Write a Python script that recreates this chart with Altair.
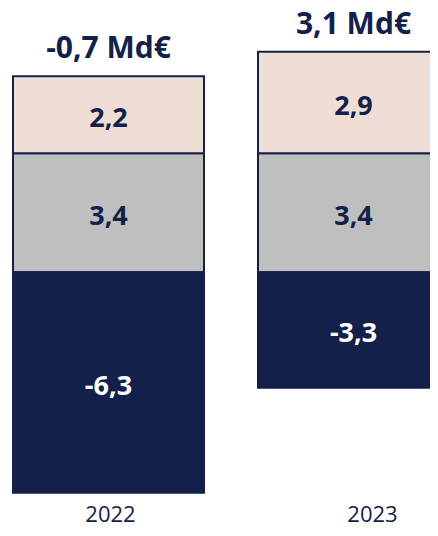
import altair as alt
import pandas as pd

years = ["2022", "2023"]
categories = ["gris", "beige", "marine"]          # stacking order (positives from zero upward, then negative)
gray_values = [3.4, 3.4]
beige_values = [2.2, 2.9]
navy_values = [-6.3, -3.3]
total_labels = ["-0,7 Md€", "3,1 Md€"]
colors = ["#BFBFBF", "#EFDED5", "#13214A"]

NAVY = "#13214A"
FONT = "Open Sans"

series = [gray_values, beige_values, navy_values]
rows = []
for i, yr in enumerate(years):
    for k, cat in enumerate(categories):
        rows.append({"year": yr, "cat": cat, "rank": k,
                     "value": series[k][i], "total": total_labels[i]})
df = pd.DataFrame(rows)

base = (
    alt.Chart(df)
    .transform_stack(stack="value", as_=["v0", "v1"], groupby=["year"],
                     sort=[alt.SortField("rank", order="ascending")])
    .transform_calculate(
        mid="(datum.v0 + datum.v1) / 2",
        label="(datum.value < 0 ? '-' : '') + replace(format(abs(datum.value), '.1f'), '.', ',')",
    )
)

x_enc = alt.X(
    "year:N",
    sort=years,
    scale=alt.Scale(range=[0, 446], paddingInner=0.2204, paddingOuter=0.0204),
    axis=alt.Axis(title=None, domain=False, ticks=False, grid=False, labelAngle=0,
                  labelFont=FONT, labelFontSize=22, labelColor=NAVY,
                  labelPadding=6,
                  labelOffset={"condition": {"test": "datum.value === '2023'", "value": 19},
                               "value": 2}),
)
y_scale = alt.Scale(domain=[-6.45, 7.55], nice=False, zero=False)

bars = base.mark_bar(stroke=NAVY, strokeWidth=2, clip=True).encode(
    x=x_enc,
    y=alt.Y("v0:Q", scale=y_scale, axis=None),
    y2="v1:Q",
    color=alt.Color("cat:N", scale=alt.Scale(domain=categories, range=colors), legend=None),
)

seg_labels = base.mark_text(font=FONT, fontSize=27, fontWeight="bold",
                            baseline="middle", dy=4).encode(
    x=x_enc,
    y=alt.Y("mid:Q", scale=y_scale, axis=None),
    text="label:N",
    color=alt.condition("datum.cat === 'marine'", alt.value("#FFFFFF"), alt.value(NAVY)),
)

totals = base.transform_filter("datum.cat === 'beige'").mark_text(
    font=FONT, fontSize=30, fontWeight="bold", baseline="alphabetic", dy=-18, color=NAVY
).encode(
    x=x_enc,
    y=alt.Y("v1:Q", scale=y_scale, axis=None),
    text="total:N",
)

chart = (
    alt.layer(bars, seg_labels, totals)
    .properties(width=422, height=490,
                autosize=alt.AutoSizeParams(type="none"),
                padding={"left": 0, "top": 0, "right": 0, "bottom": 26})
    .configure_view(stroke=None)
)

chart.save("out.html", embed_options={"renderer": "svg", "actions": False})
